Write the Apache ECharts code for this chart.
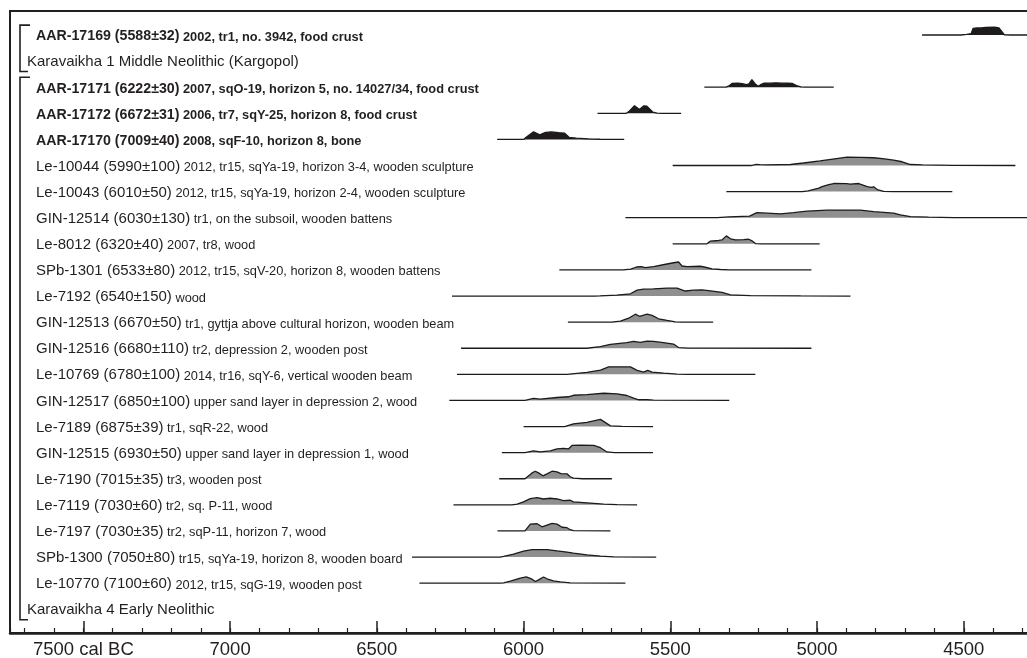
<!DOCTYPE html>
<html><head><meta charset="utf-8">
<script src="https://cdn.jsdelivr.net/npm/echarts@6/dist/echarts.min.js"></script>
<style>html,body{margin:0;padding:0;background:#fff}#c{width:1027px;height:658px}</style>
</head><body><div id="c"></div>
<script>
// ---------- DATA ----------
const sampleIds = [
  'AAR-17169 (5588±32)', null,
  'AAR-17171 (6222±30)', 'AAR-17172 (6672±31)', 'AAR-17170 (7009±40)',
  'Le-10044 (5990±100)', 'Le-10043 (6010±50)', 'GIN-12514 (6030±130)', 'Le-8012 (6320±40)',
  'SPb-1301 (6533±80)', 'Le-7192 (6540±150)', 'GIN-12513 (6670±50)', 'GIN-12516 (6680±110)',
  'Le-10769 (6780±100)', 'GIN-12517 (6850±100)', 'Le-7189 (6875±39)', 'GIN-12515 (6930±50)',
  'Le-7190 (7015±35)', 'Le-7119 (7030±60)', 'Le-7197 (7030±35)', 'SPb-1300 (7050±80)',
  'Le-10770 (7100±60)', null
];
const sampleNotes = [
  '2002, tr1, no. 3942, food crust', null,
  '2007, sqO-19, horizon 5, no. 14027/34, food crust',
  '2006, tr7, sqY-25, horizon 8, food crust',
  '2008, sqF-10, horizon 8, bone',
  '2012, tr15, sqYa-19, horizon 3-4, wooden sculpture',
  '2012, tr15, sqYa-19, horizon 2-4, wooden sculpture',
  'tr1, on the subsoil, wooden battens',
  '2007, tr8, wood',
  '2012, tr15, sqV-20, horizon 8, wooden battens',
  'wood',
  'tr1, gyttja above cultural horizon, wooden beam',
  'tr2, depression 2, wooden post',
  '2014, tr16, sqY-6, vertical wooden beam',
  'upper sand layer in depression 2, wood',
  'tr1, sqR-22, wood',
  'upper sand layer in depression 1, wood',
  'tr3, wooden post',
  'tr2, sq. P-11, wood',
  'tr2, sqP-11, horizon 7, wood',
  'tr15, sqYa-19, horizon 8, wooden board',
  '2012, tr15, sqG-19, wooden post',
  null
];
const boldRows = [true,false,true,true,true,false,false,false,false,false,false,false,false,false,false,false,false,false,false,false,false,false,false];
const groupNames = ['Karavaikha 1 Middle Neolithic (Kargopol)', 'Karavaikha 4 Early Neolithic'];
const groupLabelRows = [1, 22];
const groupSpans = [[0, 1], [2, 22]];

const tickValues = [7500, 7000, 6500, 6000, 5500, 5000, 4500];
const tickLabels = ['7500 cal BC', '7000', '6500', '6000', '5500', '5000', '4500'];

// calibrated distributions: [year cal BC, relative probability]
const d_AAR17169 = [[4642,0],[4510,0],[4490,0.08],[4475,0.15],[4468,0.8],[4455,0.85],[4440,0.84],[4425,0.92],[4395,0.93],[4380,0.85],[4362,0.03],[4340,0],[4200,0]];
const d_AAR17171 = [[5384,0],[5310,0],[5300,0.15],[5290,0.45],[5270,0.5],[5255,0.42],[5240,0.3],[5232,0.4],[5222,0.9],[5212,0.45],[5200,0.1],[5190,0.35],[5180,0.5],[5160,0.48],[5140,0.52],[5120,0.48],[5100,0.5],[5085,0.45],[5070,0.2],[5055,0.03],[5040,0],[4943,0]];
const d_AAR17172 = [[5748,0],[5650,0],[5640,0.25],[5622,0.9],[5605,0.45],[5590,0.9],[5580,0.85],[5560,0.15],[5545,0.02],[5530,0],[5463,0]];
const d_AAR17170 = [[6090,0],[6000,0],[5990,0.3],[5966,0.9],[5945,0.55],[5925,0.85],[5905,0.9],[5880,0.8],[5860,0.75],[5845,0.25],[5820,0.15],[5780,0.07],[5740,0.02],[5657,0]];
const d_Le10044 = [[5492,0],[5225,0],[5210,0.12],[5195,0.1],[5170,0.08],[5090,0.12],[5046,0.3],[4990,0.55],[4940,0.8],[4898,1.0],[4850,0.98],[4807,0.93],[4770,0.8],[4739,0.65],[4710,0.45],[4682,0.12],[4640,0.07],[4535,0.02],[4324,0]];
const d_Le10043 = [[5309,0],[5050,0],[5030,0.08],[4994,0.42],[4983,0.6],[4960,0.85],[4943,0.97],[4900,0.95],[4886,0.9],[4858,0.97],[4829,0.6],[4815,0.5],[4807,0.58],[4795,0.25],[4773,0.03],[4740,0],[4539,0]];
const d_GIN12514 = [[5653,0],[5340,0],[5300,0.1],[5230,0.2],[5205,0.6],[5170,0.55],[5125,0.47],[5080,0.6],[5034,0.78],[4966,0.9],[4900,0.92],[4852,0.9],[4807,0.72],[4739,0.55],[4716,0.35],[4682,0.12],[4620,0.06],[4534,0.02],[4200,0]];
const d_Le8012 = [[5492,0],[5375,0],[5364,0.32],[5335,0.4],[5324,0.47],[5309,0.95],[5295,0.6],[5278,0.47],[5250,0.5],[5233,0.55],[5221,0.35],[5210,0.03],[5190,0],[4991,0]];
const d_SPb1301 = [[5878,0],[5660,0],[5635,0.1],[5615,0.35],[5600,0.4],[5585,0.28],[5557,0.4],[5520,0.65],[5489,0.86],[5472,0.95],[5460,0.47],[5443,0.4],[5398,0.44],[5381,0.32],[5358,0.12],[5329,0.05],[5300,0],[5019,0]];
const d_Le7192 = [[6244,0],[5760,0],[5739,0.03],[5682,0.12],[5636,0.27],[5613,0.7],[5591,0.82],[5557,0.86],[5511,0.94],[5477,0.94],[5449,0.6],[5420,0.7],[5392,0.74],[5363,0.62],[5324,0.44],[5295,0.15],[5227,0.06],[5056,0.02],[4886,0]];
const d_GIN12513 = [[5849,0],[5700,0],[5670,0.12],[5642,0.47],[5619,0.95],[5605,0.7],[5579,0.95],[5562,0.8],[5540,0.4],[5511,0.2],[5483,0.03],[5460,0],[5354,0]];
const d_GIN12516 = [[6213,0],[5784,0],[5738,0.2],[5704,0.47],[5648,0.67],[5625,0.82],[5602,0.7],[5579,0.86],[5557,0.82],[5523,0.67],[5489,0.5],[5472,0.08],[5440,0.02],[5019,0]];
const d_Le10769 = [[6227,0],[5852,0],[5784,0.24],[5738,0.5],[5710,0.9],[5636,0.9],[5613,0.47],[5591,0.27],[5577,0.47],[5562,0.27],[5523,0.15],[5477,0.03],[5440,0],[5210,0]];
const d_GIN12517 = [[6253,0],[5995,0],[5966,0.24],[5943,0.15],[5886,0.35],[5847,0.44],[5830,0.62],[5784,0.7],[5727,0.86],[5682,0.79],[5648,0.59],[5625,0.27],[5608,0.08],[5579,0.08],[5557,0.03],[5299,0]];
const d_Le7189 = [[6000,0],[5860,0],[5830,0.32],[5784,0.5],[5738,0.86],[5721,0.47],[5704,0.08],[5665,0.03],[5559,0]];
const d_GIN12515 = [[6074,0],[5995,0],[5966,0.2],[5943,0.08],[5909,0.2],[5886,0.44],[5864,0.5],[5847,0.44],[5835,0.86],[5807,0.9],[5761,0.86],[5738,0.59],[5716,0.08],[5690,0],[5559,0]];
const d_Le7190 = [[6083,0],[5995,0],[5971,0.7],[5960,0.9],[5949,0.7],[5934,0.35],[5920,0.59],[5903,0.9],[5886,0.82],[5873,0.62],[5852,0.59],[5841,0.24],[5830,0.08],[5800,0],[5699,0]];
const d_Le7119 = [[6239,0],[6040,0],[6022,0.08],[6000,0.35],[5977,0.74],[5954,0.86],[5932,0.7],[5909,0.79],[5886,0.7],[5864,0.5],[5841,0.55],[5830,0.35],[5784,0.24],[5727,0.08],[5682,0.03],[5613,0]];
const d_Le7197 = [[6089,0],[5995,0],[5977,0.82],[5954,0.86],[5937,0.5],[5920,0.7],[5903,0.9],[5886,0.82],[5869,0.44],[5852,0.39],[5841,0.15],[5830,0.03],[5704,0]];
const d_SPb1300 = [[6380,0],[6080,0],[6068,0.08],[6034,0.35],[6000,0.7],[5971,0.9],[5920,0.9],[5886,0.74],[5852,0.59],[5830,0.47],[5784,0.27],[5738,0.12],[5693,0.03],[5548,0]];
const d_Le10770 = [[6355,0],[6080,0],[6068,0.03],[6045,0.24],[6011,0.59],[5991,0.74],[5971,0.47],[5960,0.2],[5949,0.39],[5932,0.74],[5915,0.44],[5898,0.27],[5875,0.15],[5841,0.03],[5653,0]];

const rowDists = [d_AAR17169, null, d_AAR17171, d_AAR17172, d_AAR17170, d_Le10044, d_Le10043,
  d_GIN12514, d_Le8012, d_SPb1301, d_Le7192, d_GIN12513, d_GIN12516, d_Le10769, d_GIN12517,
  d_Le7189, d_GIN12515, d_Le7190, d_Le7119, d_Le7197, d_SPb1300, d_Le10770, null];

// ---------- LAYOUT / STYLE ----------
const FONT = '"Liberation Sans", Arial, Helvetica, sans-serif';
const INK = '#231f20';
const PEAK = 0.32;           // height of a distribution peak, in row units
const ROW_MIN = -0.92, ROW_MAX = 22.91;

const chart = echarts.init(document.getElementById('c'), null, {renderer: 'canvas', devicePixelRatio: 1});

const series = [];
rowDists.forEach((dist, k) => {
  if (!dist) return;
  series.push({
    type: 'line',
    xAxisIndex: 0, yAxisIndex: 0,
    data: dist.map(([yr, p]) => [yr, k - p * PEAK]),
    symbol: 'none', showSymbol: false, smooth: false,
    lineStyle: {color: '#1b1b1b', width: 1.3},
    areaStyle: {origin: k, color: boldRows[k] ? '#1f1b1c' : '#8f8f8f', opacity: 1},
    silent: true, animation: false
  });
});

chart.setOption({
  animation: false,
  backgroundColor: '#fff',
  grid: {left: 10, top: 11, width: 1100.5, height: 622, show: true, borderColor: INK, borderWidth: 2,
         containLabel: false, outerBoundsMode: 'none'},
  xAxis: [{
    type: 'value', inverse: true, min: 4000, max: 7750, interval: 500, position: 'bottom',
    axisLine: {show: true, onZero: false, lineStyle: {color: INK, width: 2.5}},
    axisTick: {show: true, inside: true, length: 12, lineStyle: {color: INK, width: 1.5}},
    axisLabel: {
      show: true, margin: 7, color: INK, fontSize: 18.5, fontFamily: FONT,
      formatter: v => { const i = tickValues.indexOf(v); return i >= 0 ? tickLabels[i] : ''; }
    },
    splitLine: {show: false}
  }, {
    type: 'value', inverse: true, min: 4000, max: 7750, interval: 100, position: 'bottom', offset: 0,
    axisLine: {show: false, onZero: false},
    axisTick: {show: true, inside: true, length: 5, lineStyle: {color: INK, width: 1.2}},
    axisLabel: {show: false},
    splitLine: {show: false}
  }],
  yAxis: {type: 'value', inverse: true, min: ROW_MIN, max: ROW_MAX, show: false},
  series: series
});

// labels and group brackets
const yPix = r => chart.convertToPixel({gridIndex: 0}, [7000, r])[1];
const graphics = [];
sampleIds.forEach((id, k) => {
  if (!id) return;
  const b = boldRows[k];
  graphics.push({
    type: 'text', x: 36, y: yPix(k) + 1, silent: true,
    style: {
      text: '{a|' + id + '}{b| ' + sampleNotes[k] + '}',
      align: 'left', verticalAlign: 'middle', textAlign: 'left', textVerticalAlign: 'middle',
      rich: {
        a: {fontFamily: FONT, fontSize: b ? 14.2 : 15, fontWeight: b ? 'bold' : 'normal', fill: INK, color: INK, lineHeight: 15, verticalAlign: 'bottom'},
        b: {fontFamily: FONT, fontSize: 12.8, fontWeight: b ? 'bold' : 'normal', fill: INK, color: INK, lineHeight: 12.8, verticalAlign: 'bottom'}
      }
    }
  });
});
groupNames.forEach((name, i) => {
  graphics.push({
    type: 'text', x: 27, y: yPix(groupLabelRows[i]) + 1, silent: true,
    style: {text: name, font: '15px ' + FONT, fill: INK, align: 'left', verticalAlign: 'middle', textAlign: 'left', textVerticalAlign: 'middle'}
  });
});
groupSpans.forEach(([a, b]) => {
  const top = yPix(a - 0.38), bot = yPix(b + 0.4);
  graphics.push({
    type: 'polyline', silent: true,
    shape: {points: [[30, top], [20, top], [20, bot], [28, bot]]},
    style: {stroke: INK, lineWidth: 1.6, fill: null}
  });
});
chart.setOption({graphic: graphics});
</script>
</body></html>
